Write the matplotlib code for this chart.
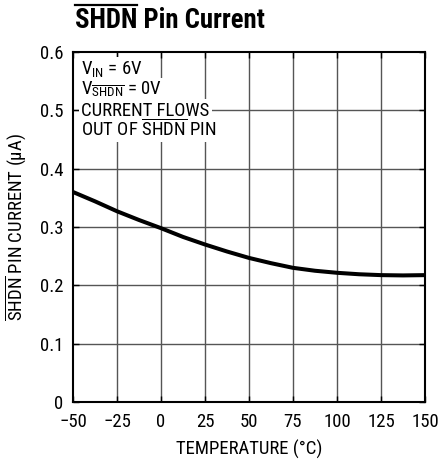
import matplotlib
matplotlib.use("Agg")
import matplotlib.pyplot as plt
from matplotlib.lines import Line2D
from matplotlib import font_manager as fm


def first_font(cands):
    for f in cands:
        try:
            fm.findfont(fm.FontProperties(family=f), fallback_to_default=False)
            return f
        except Exception:
            pass
    return 'DejaVu Sans'


COND = first_font(['Roboto Condensed', 'Liberation Sans Narrow', 'Liberation Sans'])
plt.rcParams['font.family'] = [COND, 'DejaVu Sans']
plt.rcParams['mathtext.fontset'] = 'custom'
plt.rcParams['mathtext.rm'] = COND
plt.rcParams['mathtext.it'] = COND
plt.rcParams['mathtext.bf'] = COND + ':bold'

# Data
temps = [-50, -37.5, -25, -12.5, 0, 12.5, 25, 37.5, 50, 62.5, 75, 87.5, 100, 112.5, 125, 137.5, 150]
current = [0.360, 0.344, 0.327, 0.312, 0.298, 0.283, 0.270, 0.258, 0.247, 0.238, 0.230,
           0.225, 0.2215, 0.219, 0.2175, 0.217, 0.2175]
x_ticks = [-50, -25, 0, 25, 50, 75, 100, 125, 150]
x_ticklabels = ["\u221250", "\u221225", "0", "25", "50", "75", "100", "125", "150"]
y_ticks = [0, 0.1, 0.2, 0.3, 0.4, 0.5, 0.6]
y_ticklabels = ["0", "0.1", "0.2", "0.3", "0.4", "0.5", "0.6"]
notes = [r"V$_{\mathrm{IN}}$ = 6V",
         r"V$_{\overline{\mathrm{SHDN}}}$ = 0V",
         "CURRENT FLOWS",
         r"OUT OF $\overline{\mathrm{SHDN}}$ PIN"]
title_bar = "SHDN"
title_rest = " Pin Current"

FS = 13.5
W, H = 438, 463
fig = plt.figure(figsize=(W / 100, H / 100), dpi=100)
ax = fig.add_axes([73 / W, 61 / H, 352 / W, 350 / H])

ax.set_xlim(-50, 150)
ax.set_ylim(0, 0.6)

# grid
for xv in x_ticks[1:-1]:
    ax.axvline(xv, color='#555555', lw=1.0, zorder=1)
for yv in y_ticks[1:-1]:
    ax.axhline(yv, color='#555555', lw=1.0, zorder=1)

ax.plot(temps, current, color='black', lw=2.9, zorder=4, solid_capstyle='butt')

ax.set_xticks(x_ticks)
ax.set_xticklabels(x_ticklabels)
ax.set_yticks(y_ticks)
ax.set_yticklabels(y_ticklabels)
ax.tick_params(direction='in', length=4, width=1, top=True, right=True,
               labelsize=FS, colors='black')
ax.tick_params(axis='x', pad=8)
ax.tick_params(axis='y', pad=7)
for s in ax.spines.values():
    s.set_linewidth(1.5)

ax.set_xlabel("TEMPERATURE (\u00b0C)", fontsize=FS, labelpad=6)
ax.set_ylabel(r"$\overline{\mathrm{SHDN}}$ PIN CURRENT (" + "\u03bc" + "A)",
              fontsize=FS, labelpad=8)

# annotation lines with white backgrounds
baselines_px = [74, 94.5, 115.5, 135.5]
for t, bpx in zip(notes, baselines_px):
    yv = 0.6 - (bpx - 52) / 350 * 0.6
    ax.text(-45.3, yv, t, fontsize=FS, ha='left', va='baseline', zorder=2,
            bbox=dict(facecolor='white', edgecolor='none', pad=1.5))

# title: condensed bold, sized to the reference width
title_fams = [COND, 'DejaVu Sans']
renderer = fig.canvas.get_renderer()
probe = fig.text(0, 0, title_bar + title_rest, fontsize=20, fontweight='bold',
                 family=title_fams)
wpx = probe.get_window_extent(renderer).width
probe.remove()
tsize = min(21.0, 20.0 * 190.0 / wpx)
tx, ty = 75 / W, 1 - 28 / H
fig.text(tx, ty, title_bar + title_rest, fontsize=tsize, fontweight='bold',
         family=title_fams, ha='left', va='baseline')
probe2 = fig.text(tx, ty, title_bar, fontsize=tsize, fontweight='bold',
                  family=title_fams, ha='left', va='baseline')
bb = probe2.get_window_extent(renderer)
probe2.remove()
over_y = 1 - 5 / H
fig.add_artist(Line2D([bb.x0 / W, bb.x1 / W], [over_y, over_y], color='black',
                      lw=1.6, transform=fig.transFigure))

fig.savefig("out.png", dpi=100)
